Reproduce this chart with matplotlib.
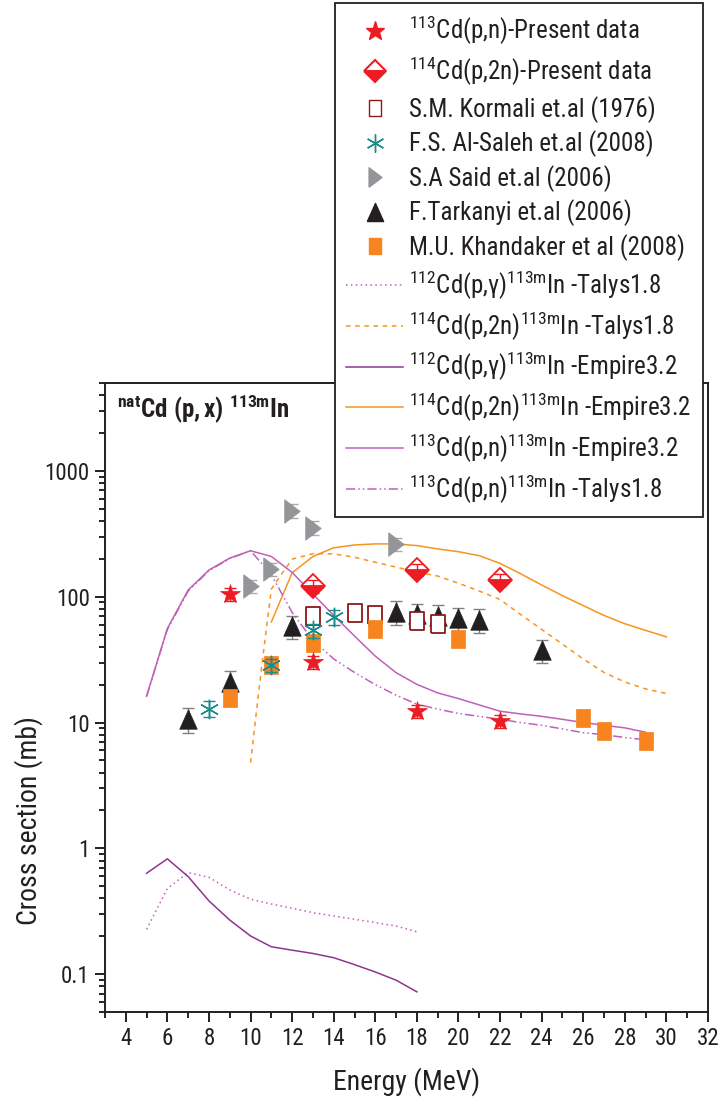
import matplotlib
matplotlib.use("Agg")
import matplotlib.pyplot as plt
from matplotlib import font_manager
from matplotlib.lines import Line2D
from matplotlib.ticker import LogLocator, FuncFormatter, MultipleLocator, NullFormatter

# ---------------- fonts ----------------
_names = {f.name for f in font_manager.fontManager.ttflist}
_narrow = [n for n in ("Liberation Sans Narrow", "Arial Narrow", "Roboto Condensed",
                       "Open Sans Condensed", "Nimbus Sans Narrow") if n in _names]
if _narrow:
    FONT = _narrow[0]
    SCALE = 1.0
else:
    FONT = "Liberation Sans"
    SCALE = 0.82  # regular width font: shrink to keep the same text extents
plt.rcParams["font.family"] = [FONT, "Liberation Sans", "DejaVu Sans"]
plt.rcParams["mathtext.fontset"] = "custom"
plt.rcParams["mathtext.rm"] = FONT
plt.rcParams["mathtext.it"] = FONT
plt.rcParams["mathtext.bf"] = FONT + ":bold"
plt.rcParams["mathtext.default"] = "regular"

# ---------------- experimental data ----------------
e_pn_present = [9, 13, 18, 22]
xs_pn_present = [105, 30.2, 12.3, 10.2]
err_pn_present = [12, 3.5, 1.4, 1.2]

e_p2n_present = [13, 18, 22]
xs_p2n_present = [122, 164, 136]
err_p2n_present = [14, 18, 15]

e_kormali = [13, 15, 16, 18, 19]
xs_kormali = [70, 74, 71, 64, 61]

e_alsaleh = [8, 11, 13, 14]
xs_alsaleh = [12.9, 28.6, 54, 69]
err_alsaleh = [1.8, 3.5, 7, 9]

e_said = [10, 11, 12, 13, 17]
xs_said = [122, 166, 483, 352, 262]
err_said = [15, 20, 60, 45, 32]

e_tarkanyi = [7, 9, 12, 17, 18, 19, 20, 21, 24]
xs_tarkanyi = [10.7, 21, 58.5, 75.7, 72.6, 70.3, 67.4, 65.3, 37.7]
err_tarkanyi = [2.4, 4.6, 12, 16, 15, 15, 14, 14, 8]

e_khandaker = [9, 11, 13, 16, 20, 26, 27, 29]
xs_khandaker = [15.7, 28.6, 42.5, 55.8, 45.8, 10.9, 8.6, 7.1]
err_khandaker = [2.0, 3.5, 5.0, 6.5, 5.5, 1.3, 1.0, 0.9]

# ---------------- model calculations ----------------
e_pg = [5, 6, 7, 8, 9, 10, 11, 12, 13, 14, 15, 16, 17, 18]
xs_pg_talys = [0.227, 0.48, 0.641, 0.589, 0.467, 0.394, 0.361, 0.334, 0.308,
               0.29, 0.273, 0.257, 0.241, 0.217]
xs_pg_empire = [0.634, 0.825, 0.596, 0.382, 0.269, 0.201, 0.165, 0.155, 0.146,
                0.135, 0.119, 0.104, 0.0895, 0.0723]

e_p2n_talys = [10, 10.5, 11, 11.5, 12, 13, 14, 15, 16, 17, 18, 19, 20, 21, 22,
               23, 24, 25, 26, 27, 28, 29, 30]
xs_p2n_talys = [4.8, 25, 115, 152, 199, 220, 219, 206, 188, 172, 157, 146, 128,
                111, 95, 72, 55, 42, 32, 25, 21, 18.5, 17]

e_p2n_empire = [11, 12, 13, 14, 15, 16, 17, 18, 19, 20, 21, 22, 23, 24, 25, 26,
                27, 28, 29, 30]
xs_p2n_empire = [63, 155, 209, 245, 258, 263, 263, 255, 240, 228, 212, 184, 152,
                 124, 102, 85, 71, 61, 54, 48]

e_pn = [5, 6, 7, 8, 9, 10, 11, 12, 13, 14, 15, 16, 17, 18, 19, 20, 21, 22, 23,
        24, 25, 26, 27, 28, 29]
xs_pn_empire = [16.2, 56, 113, 163, 203, 232, 209, 156, 105, 71, 48.7, 33.7,
                24.9, 20.1, 17.2, 15.5, 13.8, 12.3, 11.7, 11.2, 10.6, 10.0,
                9.5, 9.07, 8.37]
xs_pn_talys = [16.2, 55, 111, 161, 201, 232, 150, 75, 45, 32, 25, 20, 16.5,
               14, 12.8, 11.8, 11.2, 10.6, 10.0, 9.5, 8.9, 8.3, 8.0, 7.6, 7.3]

# ---------------- styling ----------------
C_RED = "#ed1c24"
C_KORM = "#8b1a1a"
C_TEAL = "#1a8a8a"
C_GRAY = "#939598"
C_BLACK = "#231f20"
C_ORANGE = "#f7841e"
C_LORANGE = "#f7941d"
C_PURPLE = "#8e3590"
C_PINK = "#c060b8"
C_TEXT = "#231f20"

# Marker shapes slightly taller than wide
SQ = [(-0.4, -0.5), (0.4, -0.5), (0.4, 0.5), (-0.4, 0.5), (-0.4, -0.5)]
RTRI = [(-0.33, -0.5), (0.33, 0.0), (-0.33, 0.5), (-0.33, -0.5)]
TRI = [(-0.45, -0.5), (0.45, -0.5), (0.0, 0.5), (-0.45, -0.5)]

fig = plt.figure(figsize=(7.2, 11.06), dpi=100)
ax = fig.add_axes([105 / 720, 1 - 1012 / 1106, 603 / 720, 629 / 1106])

# model curves
ax.plot(e_pg, xs_pg_talys, ls=(0, (1, 2.2)), color=C_PINK, lw=1.1, zorder=2)
ax.plot(e_p2n_talys, xs_p2n_talys, ls=(0, (3, 3)), color=C_LORANGE, lw=1.1, zorder=2)
ax.plot(e_pg, xs_pg_empire, ls="-", color=C_PURPLE, lw=1.1, zorder=2)
ax.plot(e_p2n_empire, xs_p2n_empire, ls="-", color=C_LORANGE, lw=1.1, zorder=2)
ax.plot(e_pn, xs_pn_empire, ls="-", color=C_PINK, lw=1.1, zorder=2)
ax.plot(e_pn, xs_pn_talys, ls=(0, (6, 2, 1, 2, 1, 2)), color=C_PINK, lw=1.1, zorder=2)

# experimental points with error bars
def points(x, y, err, ecolor, z, **kw):
    if err is not None:
        ax.errorbar(x, y, yerr=err, fmt="none", ecolor=ecolor, elinewidth=1.0,
                    capsize=4, capthick=1.0, zorder=z)
    ax.plot(x, y, ls="none", zorder=z + 0.1, **kw)

points(e_said, xs_said, err_said, "#a7a9ac", 3,
       marker=RTRI, ms=17, mfc=C_GRAY, mec=C_GRAY, mew=0.5)
points(e_tarkanyi, xs_tarkanyi, err_tarkanyi, "#808080", 3,
       marker=TRI, ms=14, mfc=C_BLACK, mec=C_BLACK, mew=0.5)
points(e_kormali, xs_kormali, None, C_KORM, 4,
       marker=SQ, ms=12.5, mfc="white", mec=C_KORM, mew=1.3)
points(e_khandaker, xs_khandaker, err_khandaker, "#f9b27a", 5,
       marker=SQ, ms=13, mfc=C_ORANGE, mec=C_ORANGE, mew=0.5)
points(e_alsaleh, xs_alsaleh, err_alsaleh, C_TEAL, 6,
       marker=(6, 2, 0), ms=14, mfc=C_TEAL, mec=C_TEAL, mew=1.0)
points(e_pn_present, xs_pn_present, err_pn_present, C_RED, 7,
       marker="*", ms=15, mfc=C_RED, mec=C_RED, mew=0.5)
ax.plot(e_p2n_present, xs_p2n_present, ls="none", zorder=7, marker="D", ms=12,
        fillstyle="bottom", mfc=C_RED, mfcalt="white", mec=C_RED, mew=1.3)
ax.errorbar(e_p2n_present, xs_p2n_present, yerr=err_p2n_present, fmt="none",
            ecolor=C_RED, elinewidth=1.0, capsize=4, capthick=1.0, zorder=7.2)

# axes
ax.set_yscale("log")
ax.set_xlim(3, 32)
ax.set_ylim(0.05, 5000)
ax.xaxis.set_major_locator(MultipleLocator(2))
ax.xaxis.set_minor_locator(MultipleLocator(1))
ax.yaxis.set_major_locator(LogLocator(base=10, numticks=20))
ax.yaxis.set_minor_locator(LogLocator(base=10, subs=range(2, 10), numticks=50))
ax.yaxis.set_major_formatter(FuncFormatter(lambda v, p: "%g" % v))
ax.yaxis.set_minor_formatter(NullFormatter())
ax.tick_params(axis="both", which="major", direction="out", length=7, width=1.4,
               labelsize=16.5 * SCALE, colors=C_TEXT, pad=4)
ax.tick_params(axis="both", which="minor", direction="out", length=4, width=1.2)
ax.tick_params(top=False, right=False, which="both")
for s in ax.spines.values():
    s.set_linewidth(1.4)
    s.set_color(C_TEXT)

ax.set_xlabel("Energy (MeV)", fontsize=20 * SCALE, labelpad=12, color=C_TEXT)
ax.set_ylabel("Cross section (mb)", fontsize=20 * SCALE, color=C_TEXT)
ax.yaxis.set_label_coords(-0.102, 0.305)

ax.text(0.02, 0.985, r"$\mathbf{^{nat}Cd\ (p,x)\ ^{113m}In}$", transform=ax.transAxes,
        ha="left", va="top", fontsize=18 * SCALE, color=C_TEXT)

# legend
handles = [
    Line2D([], [], ls="none", marker="*", ms=14, mfc=C_RED, mec=C_RED),
    Line2D([], [], ls="none", marker="D", ms=11, fillstyle="bottom", mfc=C_RED,
           mfcalt="white", mec=C_RED, mew=1.5),
    Line2D([], [], ls="none", marker=SQ, ms=11, mfc="white", mec=C_KORM, mew=1.0),
    Line2D([], [], ls="none", marker=(6, 2, 0), ms=13, mec=C_TEAL, mew=1.0),
    Line2D([], [], ls="none", marker=RTRI, ms=14, mfc=C_GRAY, mec=C_GRAY),
    Line2D([], [], ls="none", marker=TRI, ms=13, mfc=C_BLACK, mec=C_BLACK),
    Line2D([], [], ls="none", marker=SQ, ms=11, mfc=C_ORANGE, mec=C_ORANGE),
    Line2D([], [], ls=(0, (1, 2.2)), color=C_PINK, lw=1.1),
    Line2D([], [], ls=(0, (3, 3)), color=C_LORANGE, lw=1.1),
    Line2D([], [], ls="-", color=C_PURPLE, lw=1.1),
    Line2D([], [], ls="-", color=C_LORANGE, lw=1.1),
    Line2D([], [], ls="-", color=C_PINK, lw=1.1),
    Line2D([], [], ls=(0, (6, 2, 1, 2, 1, 2)), color=C_PINK, lw=1.1),
]
labels = [
    r"$^{113}$Cd(p,n)-Present data",
    r"$^{114}$Cd(p,2n)-Present data",
    "S.M. Kormali et.al (1976)",
    "F.S. Al-Saleh et.al (2008)",
    "S.A Said et.al (2006)",
    "F.Tarkanyi et.al (2006)",
    "M.U. Khandaker et al (2008)",
    r"$^{112}$Cd(p,γ)$^{113m}$In -Talys1.8",
    r"$^{114}$Cd(p,2n)$^{113m}$In -Talys1.8",
    r"$^{112}$Cd(p,γ)$^{113m}$In -Empire3.2",
    r"$^{114}$Cd(p,2n)$^{113m}$In -Empire3.2",
    r"$^{113}$Cd(p,n)$^{113m}$In -Empire3.2",
    r"$^{113}$Cd(p,n)$^{113m}$In -Talys1.8",
]
fs_leg = 18 * SCALE
leg = fig.legend(handles, labels, loc="upper left",
                 bbox_to_anchor=(335 / 720, 1 - 3 / 1106),
                 bbox_transform=fig.transFigure, borderaxespad=0,
                 fontsize=fs_leg, handlelength=57 / (fs_leg * 100 / 72),
                 handletextpad=6 / (fs_leg * 100 / 72),
                 labelspacing=0.55 if SCALE < 1 else 0.31,
                 borderpad=0.45, fancybox=False,
                 framealpha=1, edgecolor=C_TEXT)
leg.get_frame().set_linewidth(1.3)
for t in leg.get_texts():
    t.set_color(C_TEXT)

fig.savefig("out.png", dpi=100)
